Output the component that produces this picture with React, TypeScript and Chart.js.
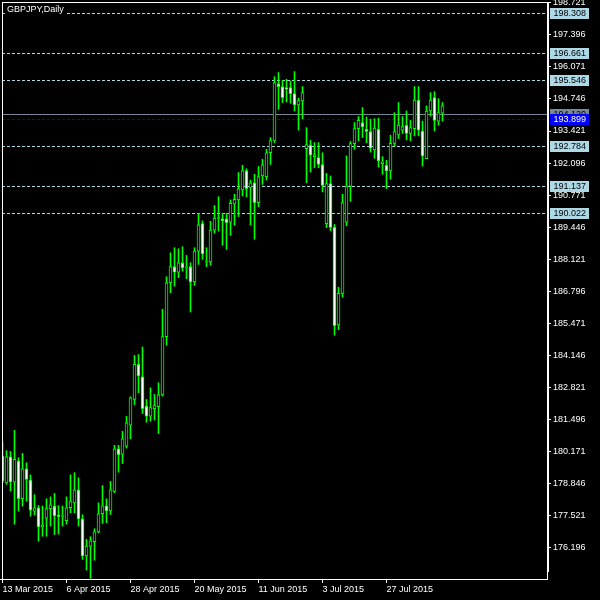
import React, { useEffect, useRef } from "react";
import { Chart, registerables } from "chart.js";

Chart.register(...registerables);

const opens = [179.97,178.86,179.94,178.89,179.77,178.20,179.44,178.97,177.69,177.83,177.04,177.40,177.79,177.90,177.50,177.48,177.29,177.83,178.03,178.57,177.37,175.84,176.24,176.42,176.83,177.58,177.91,177.70,178.50,180.27,180.05,180.38,181.25,182.31,183.76,183.25,182.04,181.62,181.93,182.01,182.50,184.91,187.14,187.81,187.58,187.97,187.75,187.81,187.17,188.45,189.59,188.00,188.00,189.32,189.80,189.79,189.79,189.65,190.40,190.57,190.98,191.78,191.09,191.28,190.46,191.56,191.53,192.52,193.01,195.38,195.26,195.22,195.22,194.97,194.50,194.67,192.69,192.83,192.36,192.32,192.03,189.59,191.24,189.43,185.40,186.70,189.65,191.14,192.90,193.52,193.77,193.49,193.40,192.64,193.49,192.07,192.00,191.77,192.91,193.26,193.46,193.66,193.32,193.52,194.70,193.42,192.28,194.25,194.80,193.83,194.16];
const highs = [180.55,180.19,180.16,181.03,179.90,180.08,179.69,179.19,178.37,177.92,177.90,178.20,178.28,178.42,177.92,177.90,178.28,179.19,179.28,179.07,177.54,176.52,176.63,176.96,178.03,178.75,178.20,178.92,180.41,180.41,180.99,181.61,182.42,184.13,184.17,184.48,182.31,182.79,182.52,183.00,186.04,187.39,188.38,188.59,188.55,188.63,188.27,187.97,188.59,190.01,189.70,188.59,189.68,190.34,190.70,190.01,190.01,190.57,190.80,191.70,192.00,191.86,191.39,191.63,191.95,192.25,192.66,193.15,195.67,195.84,195.52,195.56,195.49,195.88,194.78,195.26,193.56,193.04,192.94,192.94,192.52,191.67,191.56,189.55,186.95,190.80,192.39,192.99,193.77,194.02,194.39,194.00,193.91,193.93,193.95,192.36,192.21,193.24,194.18,194.60,194.02,194.25,193.86,195.26,195.26,193.83,194.46,195.01,195.05,194.76,194.60];
const lows = [178.86,178.80,178.52,177.15,177.69,177.90,178.10,177.48,177.52,176.45,176.65,176.65,177.07,176.72,176.74,177.07,177.15,177.62,177.62,177.07,175.69,175.25,174.91,175.66,176.79,177.18,177.21,177.55,178.45,179.30,179.66,180.30,180.68,182.10,182.59,181.73,181.37,181.41,181.46,180.90,182.45,184.56,186.73,187.00,187.35,187.62,187.31,185.93,187.03,187.90,188.11,187.81,187.86,189.19,189.28,188.69,188.52,189.10,189.52,189.88,190.73,190.70,189.53,188.94,190.28,191.21,191.39,192.04,192.94,194.32,194.60,194.62,194.57,194.25,193.46,193.93,191.28,191.72,191.90,191.90,190.90,189.42,189.30,184.97,185.20,186.55,189.50,190.52,192.66,193.01,193.15,192.94,192.55,192.29,191.93,191.63,191.04,191.42,192.80,193.11,193.32,193.05,193.01,193.22,193.22,191.97,192.28,194.04,193.42,193.66,193.83];
const closes = [178.93,179.94,178.90,179.83,178.20,179.44,179.00,177.73,177.83,177.04,177.12,177.79,177.95,177.50,177.47,177.51,177.83,178.08,178.57,177.37,175.84,176.24,176.46,176.83,177.58,177.91,177.70,178.57,180.27,180.03,180.68,181.34,182.38,183.76,183.28,181.93,181.62,181.97,182.06,182.50,184.91,187.14,187.81,187.58,187.97,187.75,187.80,187.17,188.45,189.54,188.33,188.03,189.32,189.82,189.82,189.70,189.63,190.43,190.59,191.03,191.78,191.03,191.28,190.46,191.53,192.02,192.52,193.02,195.42,195.26,194.80,195.15,194.97,194.50,194.68,195.01,192.86,192.42,192.45,192.04,191.17,191.24,189.43,185.36,186.70,190.46,191.14,192.90,193.52,193.86,193.59,193.40,192.71,193.54,192.18,192.15,191.77,192.91,193.40,193.67,193.60,193.32,193.56,194.70,193.46,192.39,194.25,194.70,193.86,194.18,194.46];

const xTickIdx = [0, 16, 32, 48, 64, 80, 96];
const xTickLabels = ["13 Mar 2015", "6 Apr 2015", "28 Apr 2015", "20 May 2015", "11 Jun 2015", "3 Jul 2015", "27 Jul 2015"];
const yTicks = [198.721, 197.396, 196.071, 194.746, 193.421, 192.096, 190.771, 189.446, 188.121, 186.796, 185.471, 184.146, 182.821, 181.496, 180.171, 178.846, 177.521, 176.196];
const levelLines = [198.308, 196.661, 195.546, 192.784, 191.137, 190.022];
const bidPrice = 194.12;
const bluePrice = 193.899;
const title = "GBPJPY,Daily";

const FONT = "Liberation Sans";

const overlayPlugin = {
  id: "mtOverlay",
  beforeDraw(chart: any) {
    const ctx = chart.ctx;
    ctx.save();
    ctx.fillStyle = "#000000";
    ctx.fillRect(0, 0, chart.width, chart.height);
    ctx.restore();
  },
  beforeDatasetsDraw(chart: any) {
    const ctx = chart.ctx;
    const ys = chart.scales.y;
    const a = chart.chartArea;
    ctx.save();
    ctx.lineWidth = 1;
    ctx.setLineDash([3, 2]);
    ctx.strokeStyle = "#add8e6";
    levelLines.forEach((p) => {
      const y = Math.round(ys.getPixelForValue(p)) + 0.5;
      ctx.beginPath();
      ctx.moveTo(a.left, y);
      ctx.lineTo(a.right, y);
      ctx.stroke();
    });
    ctx.strokeStyle = "#0000ff";
    const yb = Math.round(ys.getPixelForValue(bluePrice)) + 0.5;
    ctx.beginPath();
    ctx.moveTo(a.left, yb);
    ctx.lineTo(a.right, yb);
    ctx.stroke();
    ctx.setLineDash([]);
    ctx.strokeStyle = "#778899";
    const yg = Math.round(ys.getPixelForValue(bidPrice)) + 0.5;
    ctx.beginPath();
    ctx.moveTo(a.left, yg);
    ctx.lineTo(a.right, yg);
    ctx.stroke();
    ctx.restore();
  },
  afterDraw(chart: any) {
    const ctx = chart.ctx;
    const ys = chart.scales.y;
    const a = chart.chartArea;
    ctx.save();
    ctx.strokeStyle = "#ffffff";
    ctx.lineWidth = 1;
    ctx.beginPath();
    ctx.moveTo(a.left + 0.5, a.top);
    ctx.lineTo(a.left + 0.5, a.bottom + 1);
    ctx.moveTo(a.left, a.top + 0.5);
    ctx.lineTo(a.right + 2, a.top + 0.5);
    ctx.moveTo(0, a.bottom + 0.5);
    ctx.lineTo(a.right + 1, a.bottom + 0.5);
    ctx.moveTo(a.right + 0.5, a.top);
    ctx.lineTo(a.right + 0.5, a.bottom + 1);
    ctx.moveTo(a.right + 1.5, a.top);
    ctx.lineTo(a.right + 1.5, a.bottom - 7);
    ctx.stroke();
    ctx.font = `9px "${FONT}"`;
    ctx.textBaseline = "middle";
    ctx.textAlign = "left";
    const tw = ctx.measureText(title).width;
    ctx.fillStyle = "#000000";
    ctx.fillRect(5, 5, tw + 4, 10);
    ctx.fillStyle = "#ffffff";
    ctx.fillText(title, 7, 10);
    const box = (p: number, bg: string, fg: string) => {
      const y = Math.round(ys.getPixelForValue(p));
      ctx.fillStyle = bg;
      ctx.fillRect(550, y - 5, 39, 11);
      ctx.fillStyle = fg;
      ctx.fillText(p.toFixed(3), 553.5, y + 0.5);
    };
    levelLines.forEach((p) => box(p, "#add8e6", "#000000"));
    box(bidPrice, "#778899", "#000000");
    box(bluePrice, "#0000ff", "#ffffff");
    ctx.restore();
  },
};

export default function App() {
  const ref = useRef<HTMLCanvasElement | null>(null);
  useEffect(() => {
    if (!ref.current) return;
    Chart.defaults.font.family = FONT;
    const idx = opens.map((_, i) => i);
    const chart = new Chart(ref.current, {
      type: "bar",
      data: {
        datasets: [
          {
            label: "body",
            data: idx.map((i) => ({ x: i, y: [opens[i], closes[i]] })) as any,
            backgroundColor: idx.map((i) => (closes[i] >= opens[i] ? "#000000" : "#ffffff")),
            borderColor: "#00ff00",
            borderWidth: 1,
            borderSkipped: false,
            barThickness: 3,
            minBarLength: 1,
            grouped: false,
          } as any,
          {
            label: "wick",
            data: idx.map((i) => ({ x: i, y: [lows[i], highs[i]] })) as any,
            backgroundColor: "#00ff00",
            borderWidth: 0,
            barThickness: 1,
            grouped: false,
          } as any,
        ],
      },
      options: {
        responsive: false,
        devicePixelRatio: 1,
        animation: false,
        events: [],
        layout: { padding: { left: 2, top: 2, right: 0, bottom: 0 } },
        plugins: { legend: { display: false }, tooltip: { enabled: false } },
        scales: {
          x: {
            type: "linear",
            min: -0.125,
            max: 136.125,
            offset: false,
            afterBuildTicks: (s: any) => {
              s.ticks = xTickIdx.map((v) => ({ value: v }));
            },
            afterFit: (s: any) => {
              s.height = 21;
              s.paddingLeft = 0;
              s.paddingRight = 0;
            },
            ticks: {
              autoSkip: false,
              maxRotation: 0,
              align: "start",
              color: "#ffffff",
              padding: 1,
              font: { family: FONT, size: 9 },
              callback: (_v: any, i: number) => xTickLabels[i],
            },
            grid: { drawOnChartArea: false, color: "#ffffff", tickLength: 4, offset: false },
            border: { display: false },
          } as any,
          y: {
            type: "linear",
            position: "right",
            min: 174.88,
            max: 198.76,
            afterBuildTicks: (s: any) => {
              s.ticks = yTicks.map((v) => ({ value: v }));
            },
            afterFit: (s: any) => {
              s.width = 53;
              s.paddingTop = 0;
              s.paddingBottom = 0;
            },
            ticks: {
              autoSkip: false,
              color: "#ffffff",
              padding: 2,
              font: { family: FONT, size: 9 },
              callback: (v: any) => Number(v).toFixed(3),
            },
            grid: { drawOnChartArea: false, color: "#ffffff", tickLength: 4 },
            border: { display: false },
          } as any,
        },
      },
      plugins: [overlayPlugin],
    });
    return () => chart.destroy();
  }, []);
  return (
    <div style={{ position: "fixed", left: 0, top: 0, width: 600, height: 600, background: "#000" }}>
      <canvas ref={ref} width={600} height={600} style={{ display: "block" }} />
    </div>
  );
}
